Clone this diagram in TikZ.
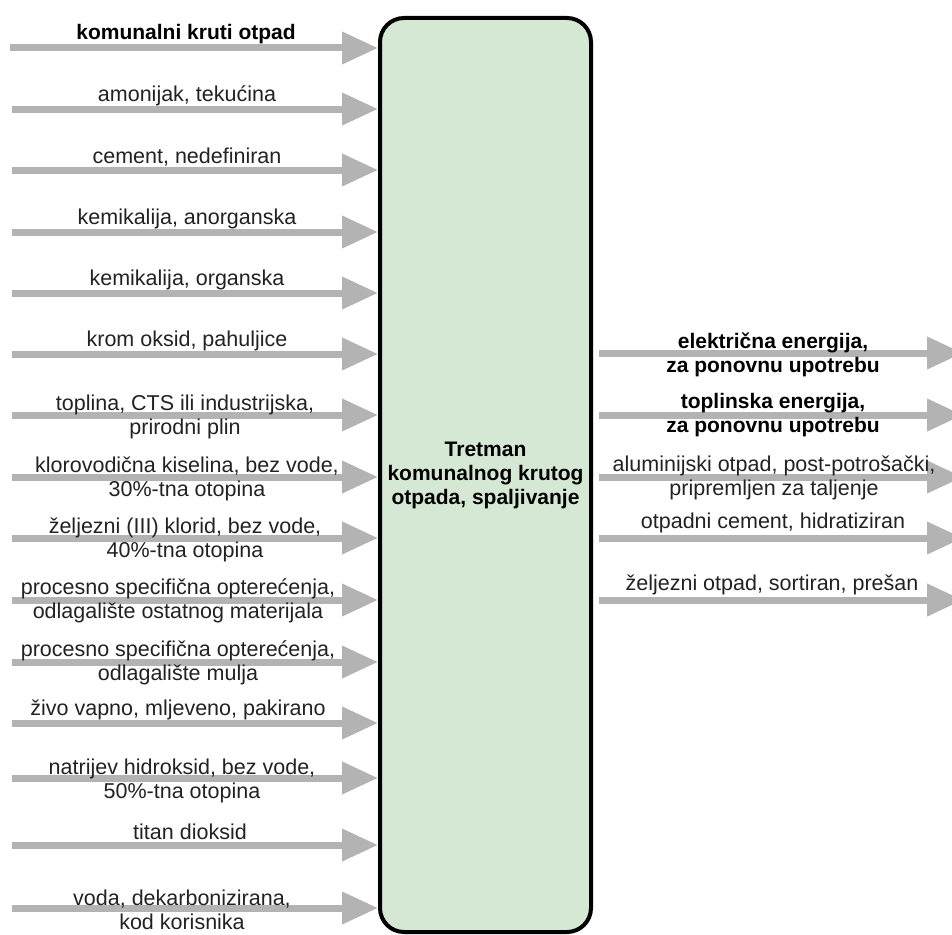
\documentclass[tikz,border=0pt]{standalone}
\usepackage{fontspec}
\setmainfont{Liberation Sans}
\usetikzlibrary{arrows.meta}
\definecolor{flowgray}{HTML}{B3B3B3}
\definecolor{boxgreen}{HTML}{D5E8D4}
\definecolor{txtgray}{HTML}{222222}
\begin{document}
\begin{tikzpicture}[x=1pt,y=-1pt,
  flow/.style={draw=flowgray, line width=7pt, -{Triangle[length=36pt,width=31pt]}},
  lbl/.style={font=\fontsize{21.5}{24}\selectfont, align=center, inner sep=0pt, text=txtgray},
  blbl/.style={font=\fontsize{21}{24}\selectfont\bfseries, align=center, inner sep=0pt, text=black},
  procbox/.style={draw=black, line width=4pt, fill=boxgreen, rounded corners=24pt,
    minimum width=211pt, minimum height=914pt, inner sep=0pt, align=center,
    font=\fontsize{21}{24}\selectfont\bfseries}]
\clip (0,0) rectangle (952,934);
\node[procbox] (proc) at (485.5,475) {Tretman\\komunalnog krutog\\otpada, spaljivanje};

% left inputs
\coordinate (a1) at (10,48);
\coordinate (a2) at (12,109);
\coordinate (a3) at (12,170);
\coordinate (a4) at (12,232);
\coordinate (a5) at (12,293);
\coordinate (a6) at (12,354);
\coordinate (a7) at (12,415);
\coordinate (a8) at (12,477);
\coordinate (a9) at (12,538);
\coordinate (a10) at (12,600);
\coordinate (a11) at (12,662);
\coordinate (a12) at (12,723);
\coordinate (a13) at (12,778);
\coordinate (a14) at (12,845);
\coordinate (a15) at (12,908);
\foreach \k in {1,...,15} {
  \draw[flow] (a\k) -- (a\k -| proc.west);
}

\node[blbl] (l1) at (186,34) {komunalni kruti otpad};
\node[lbl] (l2) at (187,96) {amonijak, tekućina};
\node[lbl] (l3) at (187,157) {cement, nedefiniran};
\node[lbl] (l4) at (187,219) {kemikalija, anorganska};
\node[lbl] (l5) at (187,280) {kemikalija, organska};
\node[lbl] (l6) at (187,341) {krom oksid, pahuljice};
\node[lbl] (l7) at (185,417) {toplina, CTS ili industrijska,\\prirodni plin};
\node[lbl] (l8) at (187,479) {klorovodična kiselina, bez vode,\\30\%-tna otopina};
\node[lbl] (l9) at (185,540) {željezni (III) klorid, bez vode,\\40\%-tna otopina};
\node[lbl] (l10) at (178,601) {procesno specifična opterećenja,\\odlagalište ostatnog materijala};
\node[lbl] (l11) at (178,663) {procesno specifična opterećenja,\\odlagalište mulja};
\node[lbl] (l12) at (178,710) {živo vapno, mljeveno, pakirano};
\node[lbl] (l13) at (182,781) {natrijev hidroksid, bez vode,\\50\%-tna otopina};
\node[lbl] (l14) at (190,832) {titan dioksid};
\node[lbl] (l15) at (182,910) {voda, dekarbonizirana,\\kod korisnika};

% right outputs
\coordinate (b1) at (963,353);
\coordinate (b2) at (963,415);
\coordinate (b3) at (963,477);
\coordinate (b4) at (963,538);
\coordinate (b5) at (963,600);
\foreach \k in {1,...,5} {
  \draw[flow] ([xshift=6pt]proc.east |- b\k) -- (b\k);
}
\node[blbl] (r1) at (773,355) {električna energija,\\za ponovnu upotrebu};
\node[blbl] (r2) at (773,415) {toplinska energija,\\za ponovnu upotrebu};
\node[lbl] (r3) at (774,478) {aluminijski otpad, post-potrošački,\\pripremljen za taljenje};
\node[lbl] (r4) at (773,523) {otpadni cement, hidratiziran};
\node[lbl] (r5) at (772,585) {željezni otpad, sortiran, prešan};
\end{tikzpicture}
\end{document}
